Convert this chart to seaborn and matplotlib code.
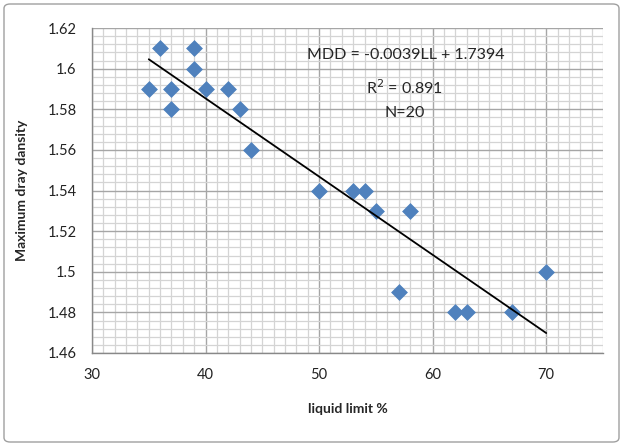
import numpy as np
import pandas as pd
import matplotlib
matplotlib.use("Agg")
import matplotlib.pyplot as plt
import seaborn as sns
from matplotlib.ticker import MultipleLocator
from matplotlib.patches import FancyBboxPatch

liquid_limit = [35, 36, 37, 37, 39, 39, 40, 42, 43, 44, 50, 53, 54, 55, 58, 57, 62, 63, 67, 70]
max_dry_density = [1.59, 1.61, 1.59, 1.58, 1.61, 1.60, 1.59, 1.59, 1.58, 1.56,
                   1.54, 1.54, 1.54, 1.53, 1.53, 1.49, 1.48, 1.48, 1.48, 1.50]
x_ticks = [30, 40, 50, 60, 70]
y_ticks = [1.46, 1.48, 1.50, 1.52, 1.54, 1.56, 1.58, 1.60, 1.62]
y_tick_labels = ["1.46", "1.48", "1.5", "1.52", "1.54", "1.56", "1.58", "1.6", "1.62"]
equation_lines = ["MDD = -0.0039LL + 1.7394", "R$^2$ = 0.891", "N=20"]

sns.set_style("white")
plt.rcParams['font.family'] = ['Lato', 'DejaVu Sans']

df = pd.DataFrame({"LL": liquid_limit, "MDD": max_dry_density})

fig = plt.figure(figsize=(6.23, 4.46), dpi=100)
ax = fig.add_axes([92/623, 1-353/446, (603-92)/623, (353-28)/446])

# grid
ax.set_xlim(30, 75)
ax.set_ylim(1.46, 1.62)
ax.xaxis.set_major_locator(MultipleLocator(10))
ax.xaxis.set_minor_locator(MultipleLocator(1))
ax.yaxis.set_major_locator(MultipleLocator(0.02))
ax.yaxis.set_minor_locator(MultipleLocator(0.004))
ax.grid(which="major", color="#a6a6a6", linewidth=1.0, zorder=0)
ax.grid(which="minor", color="#d4d4d4", linewidth=0.9, zorder=0)
ax.set_axisbelow(True)

sns.scatterplot(data=df, x="LL", y="MDD", marker="D", s=65, color="#4F81BD",
                edgecolor="#4F81BD", linewidth=0.5, ax=ax, zorder=3)

# linear trend line
coef = np.polyfit(df["LL"], df["MDD"], 1)
xs = np.array([min(liquid_limit), max(liquid_limit)])
ax.plot(xs, np.polyval(coef, xs), color="black", linewidth=1.3, zorder=4)

ax.set_xticks(x_ticks)
ax.set_yticks(y_ticks)
ax.set_yticklabels(y_tick_labels)
ax.tick_params(axis="both", which="major", direction="out", length=5, color="#888888",
               labelsize=10.5, labelcolor="#222222", pad=6)
ax.tick_params(axis="both", which="minor", length=0)
for s in ["top", "right"]:
    ax.spines[s].set_visible(False)
for s in ["left", "bottom"]:
    ax.spines[s].set_color("#888888")
    ax.spines[s].set_linewidth(1.0)

ax.set_xlabel("liquid limit %", fontsize=10, fontweight="bold", labelpad=15)
ax.set_ylabel("Maximum dray dansity", fontsize=10, fontweight="bold", labelpad=14)

ax.text(0.615, 0.917, equation_lines[0], transform=ax.transAxes, ha="center", va="center", fontsize=11.5)
ax.text(0.611, 0.818, equation_lines[1], transform=ax.transAxes, ha="center", va="center", fontsize=11.5)
ax.text(0.612, 0.738, equation_lines[2], transform=ax.transAxes, ha="center", va="center", fontsize=11.5)

border = FancyBboxPatch((4/623, 4/446), 615/623, 438/446, boxstyle="round,pad=0,rounding_size=0.01",
                        transform=fig.transFigure, fill=False, edgecolor="#a0a0a0", linewidth=1.0)
fig.patches.append(border)

fig.savefig("out.png", dpi=100, facecolor="white")
